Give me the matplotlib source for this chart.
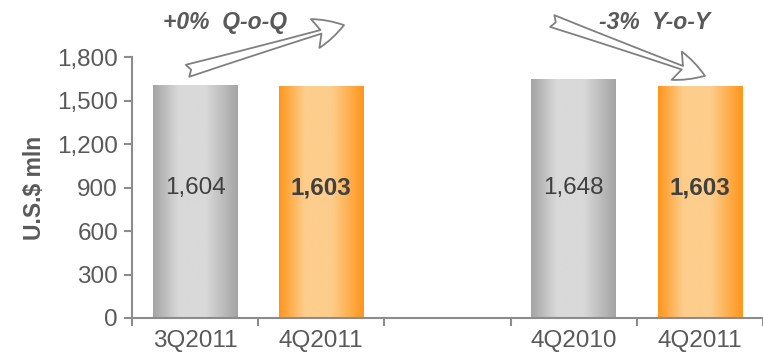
import matplotlib.pyplot as plt
import numpy as np
from matplotlib.colors import LinearSegmentedColormap

plt.rcParams['font.family'] = ['Liberation Sans', 'DejaVu Sans']

categories = ['3Q2011', '4Q2011', '', '4Q2010', '4Q2011']
values = [1604, 1603, None, 1648, 1603]
kinds = ['gray', 'orange', None, 'gray', 'orange']
bold_label = [False, True, None, False, True]
yticks = [0, 300, 600, 900, 1200, 1500, 1800]

edge_gray, mid_gray = '#a4a4a4', '#d9d9d9'
edge_orange, mid_orange = '#ff961c', '#fdcd8c'
axis_col = '#8c8c8c'
text_col = '#595959'

fig = plt.figure(figsize=(7.63, 3.57), dpi=100)
ax = fig.add_axes([132/763, 39/357, 631/763, 261/357])

x = np.arange(len(categories))
prof = np.linspace(0, 1, 200)
shape = np.interp(prof, [0, 0.3, 0.62, 1], [0, 1, 1, 0])
cmaps = {
    'gray': LinearSegmentedColormap.from_list('g', [edge_gray, mid_gray]),
    'orange': LinearSegmentedColormap.from_list('o', [edge_orange, mid_orange]),
}
w = 0.67
for xi, v, k, b in zip(x, values, kinds, bold_label):
    if v is None:
        continue
    bar = ax.bar(xi, v, width=w, color='none', edgecolor='none')[0]
    im = ax.imshow(shape[np.newaxis, :], cmap=cmaps[k], aspect='auto',
                   extent=[xi - w/2, xi + w/2, 0, v], vmin=0, vmax=1, zorder=2)
    im.set_clip_path(bar)
    ax.text(xi, 900, f'{v:,}', ha='center', va='center', fontsize=17.5,
            color='#404040', fontweight='bold' if b else 'normal', zorder=3)

ax.set_xlim(-0.5, 4.5)
ax.set_ylim(0, 1800)
ax.set_yticks(yticks)
ax.set_yticklabels([f'{t:,}' for t in yticks], fontsize=17.5, color=text_col)
ax.set_xticks(np.arange(-0.5, 5, 1.0))
ax.set_xticklabels([])
ax.set_xticks(x, minor=True)
ax.set_xticklabels(categories, minor=True, fontsize=17.5, color=text_col)
ax.tick_params(axis='x', which='minor', length=0, pad=9)
ax.tick_params(axis='x', which='major', length=6, color=axis_col, width=1.5)
ax.tick_params(axis='y', length=6, color=axis_col, width=1.5, pad=4)
for s in ['top', 'right']:
    ax.spines[s].set_visible(False)
for s in ['left', 'bottom']:
    ax.spines[s].set_color(axis_col)
    ax.spines[s].set_linewidth(1.5)
ax.set_ylabel('U.S.$ mln', fontsize=16.5, fontweight='bold', color=text_col, labelpad=8)

ax.text(0.24, 2035, '+0%  Q-o-Q', fontsize=16.5, fontweight='bold', style='italic',
        color=text_col, ha='center', va='center', clip_on=False)
ax.text(3.64, 2040, '-3%  Y-o-Y', fontsize=16.5, fontweight='bold', style='italic',
        color=text_col, ha='center', va='center', clip_on=False)

arrow_style = 'fancy,head_length=1.2,head_width=1.2,tail_width=0.5'
ax.annotate('', xy=(1.18, 2020), xytext=(-0.06, 1705), annotation_clip=False,
            arrowprops=dict(arrowstyle=arrow_style, fc='white', ec='#808080',
                            lw=1.3, mutation_scale=18, shrinkA=0, shrinkB=0))
ax.annotate('', xy=(4.04, 1670), xytext=(2.83, 2048), annotation_clip=False,
            arrowprops=dict(arrowstyle=arrow_style, fc='white', ec='#808080',
                            lw=1.3, mutation_scale=18, shrinkA=0, shrinkB=0))

fig.savefig('out.png', dpi=100)
